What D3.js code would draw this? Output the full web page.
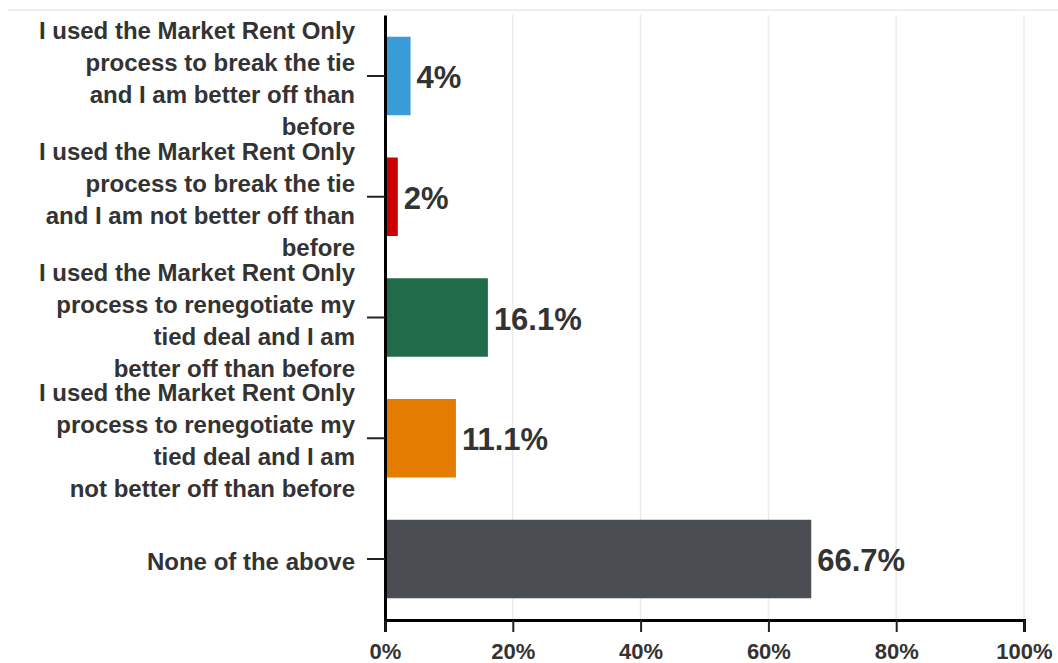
<!DOCTYPE html>
<html>
<head>
<meta charset="utf-8">
<script src="https://cdn.jsdelivr.net/npm/d3@7"></script>
<style>
  html, body { margin: 0; padding: 0; background: #fff; }
  svg { display: block; font-family: "Liberation Sans", Arial, sans-serif; }
</style>
</head>
<body>
<svg id="chart" width="1058" height="663"></svg>
<script>
// Survey answers, each category label split into its display lines
const categoryLines = [
  ["I used the Market Rent Only", "process to break the tie", "and I am better off than", "before"],
  ["I used the Market Rent Only", "process to break the tie", "and I am not better off than", "before"],
  ["I used the Market Rent Only", "process to renegotiate my", "tied deal and I am", "better off than before"],
  ["I used the Market Rent Only", "process to renegotiate my", "tied deal and I am", "not better off than before"],
  ["None of the above"]
];
const categories = categoryLines.map(l => l.join(" "));
const values = [4, 2, 16.1, 11.1, 66.7];
const valueLabels = ["4%", "2%", "16.1%", "11.1%", "66.7%"];
const barColors = ["#3a9bd9", "#cc0000", "#1f6b4a", "#e37c00", "#4a4d52"];
const xTicks = [0, 20, 40, 60, 80, 100];

const svg = d3.select("#chart");

const x = d3.scaleLinear().domain([0, 100]).range([385, 1024]);
const y = d3.scaleBand().domain(categories).range([15, 620])
  .paddingInner(0.35).paddingOuter(0.18);

// faint rule along the top
svg.append("line")
  .attr("x1", 8).attr("x2", 1058).attr("y1", 10).attr("y2", 10)
  .attr("stroke", "#eeeeee").attr("stroke-width", 2);

// vertical gridlines
svg.append("g").selectAll("line")
  .data(xTicks.slice(1))
  .join("line")
  .attr("x1", d => x(d)).attr("x2", d => x(d))
  .attr("y1", 15).attr("y2", 620)
  .attr("stroke", "#ececec").attr("stroke-width", 1.5);

// bars
svg.append("g").selectAll("rect")
  .data(values)
  .join("rect")
  .attr("x", x(0))
  .attr("y", (d, i) => y(categories[i]))
  .attr("width", d => x(d) - x(0))
  .attr("height", y.bandwidth())
  .attr("fill", (d, i) => barColors[i]);

// value labels at the bar ends
svg.append("g").selectAll("text")
  .data(values)
  .join("text")
  .attr("x", d => x(d) + 6)
  .attr("y", (d, i) => y(categories[i]) + y.bandwidth() / 2 + 12)
  .attr("fill", "#333")
  .attr("font-size", 31)
  .attr("font-weight", "bold")
  .text((d, i) => valueLabels[i]);

// x axis
const xAxis = d3.axisBottom(x)
  .tickValues(xTicks)
  .tickFormat(d => d + "%")
  .tickSize(12)
  .tickSizeOuter(12)
  .tickPadding(11);
const gx = svg.append("g").attr("transform", "translate(0,620)").call(xAxis);
gx.select(".domain").attr("stroke", "#000").attr("stroke-width", 3);
gx.selectAll(".tick line").attr("stroke", "#222").attr("stroke-width", 2);
gx.selectAll(".tick text")
  .attr("fill", "#333")
  .attr("font-size", 22)
  .attr("font-weight", "bold")
  .attr("font-family", "Liberation Sans, Arial, sans-serif");

// y axis
const yAxis = d3.axisLeft(y).tickSize(18).tickSizeOuter(0).tickFormat(() => "");
const gy = svg.append("g").attr("transform", "translate(385,0)").call(yAxis);
gy.select(".domain").attr("stroke", "#000").attr("stroke-width", 3);
gy.selectAll(".tick line").attr("stroke", "#222").attr("stroke-width", 2);

// multi-line category labels
const lineStep = 32;
const labels = svg.append("g").selectAll("text")
  .data(categoryLines)
  .join("text")
  .attr("text-anchor", "end")
  .attr("fill", "#333")
  .attr("font-size", 24)
  .attr("font-weight", "bold");
labels.each(function (lines, i) {
  const cy = y(categories[i]) + y.bandwidth() / 2;
  const n = lines.length;
  d3.select(this).selectAll("tspan")
    .data(lines)
    .join("tspan")
    .attr("x", 355)
    .attr("y", (l, j) => cy + 2 + (j - (n - 1) / 2) * lineStep + 9)
    .text(l => l);
});
</script>
</body>
</html>
